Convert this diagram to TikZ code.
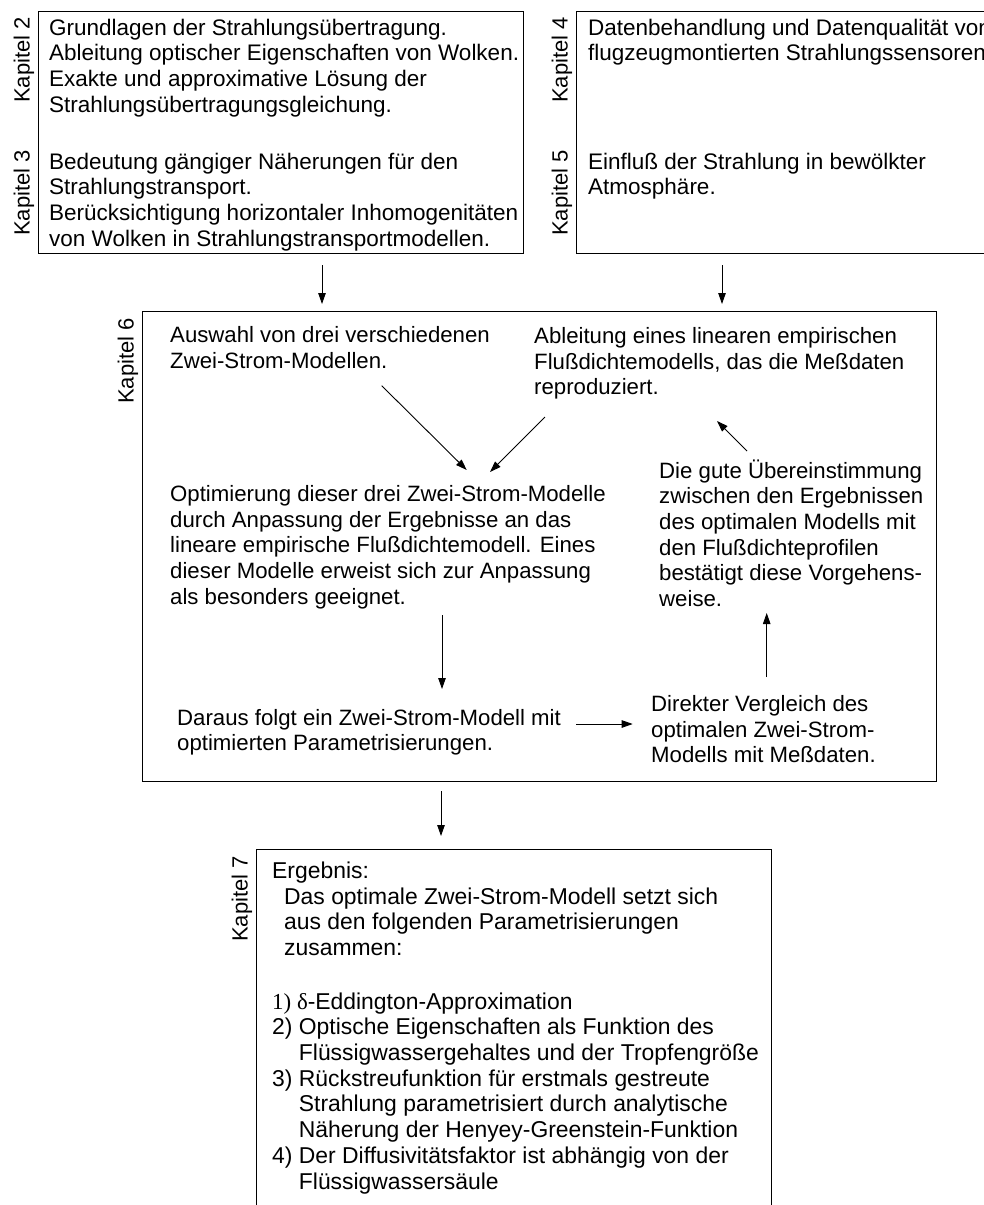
\documentclass[tikz,border=0pt]{standalone}
\usepackage{fontspec}
\setmainfont{Liberation Sans}
\newfontfamily\seriffont{Liberation Serif}
\usetikzlibrary{arrows.meta}
\begin{document}
\begin{tikzpicture}[x=1pt,y=-1pt,
  txt/.style={anchor=base west, align=left, inner sep=0pt, font=\fontsize{22.2}{25.7}\selectfont},
  txtA/.style={txt, font=\fontsize{22.5}{25.7}\selectfont},
  txtC/.style={txt, font=\fontsize{22.9}{25.7}\selectfont},
  kap/.style={rotate=90, anchor=base east, inner sep=0pt, font=\fontsize{22}{25.7}\selectfont},
  frame/.style={draw, line width=1pt},
  arr/.style={line width=0.9pt, -{Triangle[length=11pt,width=7.5pt]}}]
\useasboundingbox (0,0) rectangle (984,1205);
\fill[white] (0,0) rectangle (984,1205);
\clip (0,0) rectangle (984,1205);

% boxes
\draw[frame] (38,11) rectangle (523,253);
\draw[frame] (576,11) rectangle (1000,253);
\draw[frame] (142,311.5) rectangle (936,781);
\draw[frame] (256,1220) -- (256,849) -- (771,849) -- (771,1220);

% chapter labels
\node[kap] (k2) at (29.5,17) {Kapitel 2};
\node[kap] (k3) at (29.5,150) {Kapitel 3};
\node[kap] (k4) at (567.5,17) {Kapitel 4};
\node[kap] (k5) at (567.5,150) {Kapitel 5};
\node[kap] (k6) at (133.5,318) {Kapitel 6};
\node[kap] (k7) at (247.5,856) {Kapitel 7};

% box 1 (anchors at the baseline of the last line)
\node[txtA] (t2) at (49,112.1) {Grundlagen der Strahlungsübertragung.\\Ableitung optischer Eigenschaften von Wolken.\\Exakte und approximative Lösung der\\Strahlungsübertragungsgleichung.};
\node[txtA] (t3) at (49,246.1) {Bedeutung gängiger Näherungen für den\\Strahlungstransport.\\Berücksichtigung horizontaler Inhomogenitäten\\von Wolken in Strahlungstransportmodellen.};

% box 2
\node[txtA] (t4) at (588,60.7) {Datenbehandlung und Datenqualität von\\flugzeugmontierten Strahlungssensoren.};
\node[txtA] (t5) at (588,194.7) {Einfluß der Strahlung in bewölkter\\Atmosphäre.};

% box 6
\node[txt] (auswahl) at (170,368.4) {Auswahl von drei verschiedenen\\Zwei-Strom-Modellen.};
\node[txt] (ableitung) at (534,394.9) {Ableitung eines linearen empirischen\\Flußdichtemodells, das die Meßdaten\\reproduziert.};
\node[txt] (optim) at (170,604.3) {Optimierung dieser drei Zwei-Strom-Modelle\\durch Anpassung der Ergebnisse an das\\lineare empirische Flußdichtemodell. Eines\\dieser Modelle erweist sich zur Anpassung\\als besonders geeignet.};
\node[txt] (gute) at (659,606.5) {Die gute Übereinstimmung\\zwischen den Ergebnissen\\des optimalen Modells mit\\den Flußdichteprofilen\\bestätigt diese Vorgehens-\\weise.};
\node[txt] (daraus) at (177,750.7) {Daraus folgt ein Zwei-Strom-Modell mit\\optimierten Parametrisierungen.};
\node[txt] (direkt) at (651,762.9) {Direkter Vergleich des\\optimalen Zwei-Strom-\\Modells mit Meßdaten.};

% box 7
\node[txtC] (erg) at (272,878) {Ergebnis:};
\node[txtC] (das) at (284,955.4) {Das optimale Zwei-Strom-Modell setzt sich\\aus den folgenden Parametrisierungen\\zusammen:};
\node[txtC] (liste) at (272,1189) {{\seriffont 1) δ}-Eddington-Approximation\\2) Optische Eigenschaften als Funktion des\\\phantom{2) }Flüssigwassergehaltes und der Tropfengröße\\3) Rückstreufunktion für erstmals gestreute\\\phantom{3) }Strahlung parametrisiert durch analytische\\\phantom{3) }Näherung der Henyey-Greenstein-Funktion\\4) Der Diffusivitätsfaktor ist abhängig von der\\\phantom{4) }Flüssigwassersäule};

% connector end points
\coordinate (a1s) at (322,265);   \coordinate (a1e) at (322,304);
\coordinate (a2s) at (722,265);   \coordinate (a2e) at (722,304);
\coordinate (a3s) at (381.7,385.7); \coordinate (a3e) at (466.7,470);
\coordinate (a4s) at (545,417);   \coordinate (a4e) at (490,472);
\coordinate (a5s) at (747,451);   \coordinate (a5e) at (717,421);
\coordinate (a6s) at (442,615);   \coordinate (a6e) at (442,689);
\coordinate (a7s) at (576,724);   \coordinate (a7e) at (632.7,724);
\coordinate (a8s) at (766.7,677); \coordinate (a8e) at (766.7,613);
\coordinate (a9s) at (441,791);   \coordinate (a9e) at (441,836);

\draw[arr] (a1s) -- (a1e);
\draw[arr] (a2s) -- (a2e);
\draw[arr] (a3s) -- (a3e);
\draw[arr] (a4s) -- (a4e);
\draw[arr] (a5s) -- (a5e);
\draw[arr] (a6s) -- (a6e);
\draw[arr] (a7s) -- (a7e);
\draw[arr] (a8s) -- (a8e);
\draw[arr] (a9s) -- (a9e);
\end{tikzpicture}
\end{document}
